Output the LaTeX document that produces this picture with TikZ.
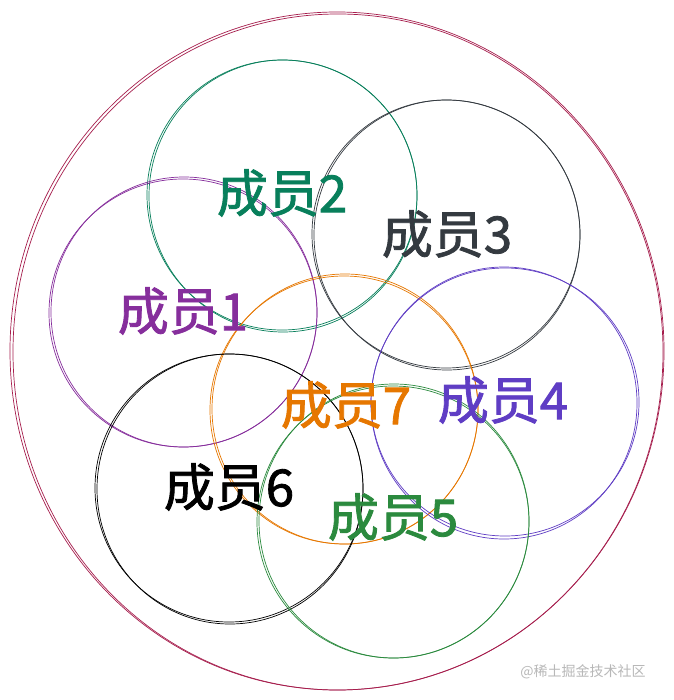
\documentclass[tikz,border=0pt]{standalone}
\usepackage{fontspec}
\newfontfamily\cjk{Noto Sans CJK SC}
\newfontfamily\cjkm[FakeBold=1.6]{Noto Sans CJK SC}
\definecolor{cOuter}{HTML}{A61E4D}
\definecolor{cTeal}{HTML}{087F5B}
\definecolor{cGray}{HTML}{343A40}
\definecolor{cGrape}{HTML}{862E9C}
\definecolor{cOrange}{HTML}{E67700}
\definecolor{cViolet}{HTML}{5F3DC4}
\definecolor{cGreen}{HTML}{2B8A3E}
\tikzset{
  sketch/.style={line width=0.7pt},
  member/.style={font=\cjkm\fontsize{51}{51}\selectfont, inner sep=0pt},
}
\begin{document}
\begin{tikzpicture}[x=1pt,y=-1pt]
\useasboundingbox[fill=white] (0,0) rectangle (673,700);
% outer ellipse (double sketch stroke)
\draw[sketch,cOuter] (337,351) ellipse [x radius=327, y radius=339];
\draw[sketch,cOuter] (338,352) ellipse [x radius=325, y radius=338];
% member circles
\draw[sketch,cTeal] (282,195) circle [radius=135];
\draw[sketch,cTeal] (283,196) ellipse [x radius=134, y radius=136];
\draw[sketch,cGray] (446,234) circle [radius=134];
\draw[sketch,cGray] (447,235) ellipse [x radius=133, y radius=135];
\draw[sketch,cGrape] (183,313) circle [radius=134];
\draw[sketch,cGrape] (184,312) ellipse [x radius=133, y radius=135];
\draw[sketch,cOrange] (344,410) circle [radius=134];
\draw[sketch,cOrange] (345,409) ellipse [x radius=133, y radius=135];
\draw[sketch,cViolet] (505,402) circle [radius=134];
\draw[sketch,cViolet] (504,403) ellipse [x radius=133, y radius=136];
\draw[sketch,black] (229,488) circle [radius=134];
\draw[sketch,black] (230,489) ellipse [x radius=133, y radius=135];
\draw[sketch,cGreen] (393,522) circle [radius=136];
\draw[sketch,cGreen] (394,521) ellipse [x radius=135, y radius=137];
% labels
\node[member,text=cTeal]   (m2) at (282,193) {成员2};
\node[member,text=cGray]   (m3) at (447,234) {成员3};
\node[member,text=cGrape]  (m1) at (183,311) {成员1};
\node[member,text=cOrange] (m7) at (346,405) {成员7};
\node[member,text=cViolet] (m4) at (503,400) {成员4};
\node[member,text=black]   (m6) at (229,487) {成员6};
\node[member,text=cGreen]  (m5) at (393,517) {成员5};
\node[font=\cjk\fontsize{14}{14}\selectfont,text=black!28,inner sep=0pt] (wm) at (583,672) {@稀土掘金技术社区};
\end{tikzpicture}
\end{document}
